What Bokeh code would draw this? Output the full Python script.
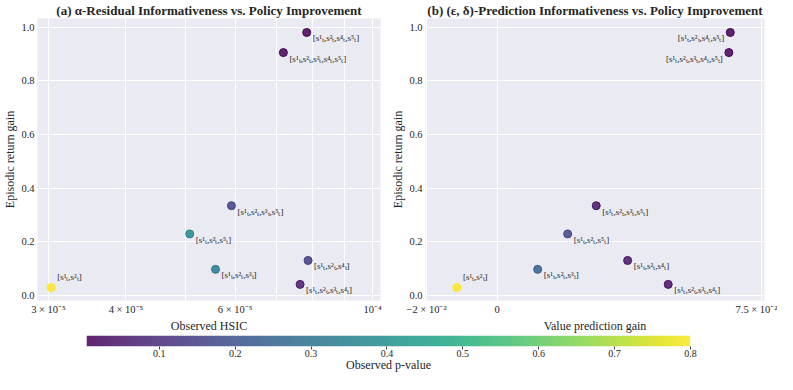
import numpy as np
from bokeh.plotting import figure
from bokeh.layouts import column, row
from bokeh.models import (ColumnDataSource, LinearColorMapper, FixedTicker,
                          Range1d, PrintfTickFormatter)
from bokeh.palettes import Viridis256
from bokeh.core.properties import value
from bokeh.embed import file_html
from bokeh.resources import INLINE

# ---------------- data ----------------
subsets = ["[s¹ₜ,s²ₜ,s⁴ₜ,s⁵ₜ]", "[s¹ₜ,s²ₜ,s³ₜ,s⁴ₜ,s⁵ₜ]", "[s¹ₜ,s²ₜ,s³ₜ,s⁵ₜ]",
           "[s¹ₜ,s²ₜ,s⁵ₜ]", "[s¹ₜ,s²ₜ,s³ₜ]", "[s¹ₜ,s²ₜ,s⁴ₜ]",
           "[s¹ₜ,s²ₜ,s³ₜ,s⁴ₜ]", "[s¹ₜ,s²ₜ]"]
return_gain = [0.98, 0.905, 0.335, 0.23, 0.098, 0.131, 0.042, 0.03]
observed_hsic = [7.83e-5, 7.18e-5, 5.92e-5, 5.07e-5, 5.58e-5, 7.87e-5, 7.64e-5, 3.03e-5]
pvalue_hsic = [0.01, 0.01, 0.16, 0.37, 0.33, 0.15, 0.06, 0.80]
value_pred_gain = [0.0661, 0.0657, 0.0281, 0.0200, 0.0115, 0.0370, 0.0485, -0.0114]
pvalue_pred = [0.01, 0.01, 0.05, 0.17, 0.24, 0.05, 0.04, 0.80]

pmin, pmax = 0.004, 0.80
cbar_ticks = [0.1, 0.2, 0.3, 0.4, 0.5, 0.6, 0.7, 0.8]
hsic_ticks = [3e-5, 4e-5, 5e-5, 6e-5, 7e-5, 8e-5, 9e-5, 1e-4]
hsic_tick_labels = {3e-5: "3 × 10⁻⁵", 4e-5: "4 × 10⁻⁵", 5e-5: "", 6e-5: "6 × 10⁻⁵",
                    7e-5: "", 8e-5: "", 9e-5: "", 1e-4: "10⁻⁴"}
pred_ticks = [-0.02, 0.0, 0.075]
pred_tick_labels = {-0.02: "−2 × 10⁻²", 0.0: "0", 0.075: "7.5 × 10⁻²"}
y_ticks = [0.0, 0.2, 0.4, 0.6, 0.8, 1.0]

# ---------------- style ----------------
SERIF = "Liberation Serif"
BG = "#eaeaf2"
TXT = "#262626"
mapper = LinearColorMapper(palette=Viridis256, low=pmin, high=pmax)


def style(p):
    p.background_fill_color = BG
    p.outline_line_color = None
    p.border_fill_color = "white"
    for ax in (p.xaxis[0], p.yaxis[0]):
        ax.axis_line_color = None
        ax.major_tick_line_color = None
        ax.minor_tick_line_color = None
        ax.major_tick_out = 0
        ax.major_tick_in = 0
        ax.minor_tick_out = 0
        ax.minor_tick_in = 0
        ax.major_label_text_font = SERIF
        ax.major_label_text_font_size = "10.5px"
        ax.major_label_text_color = TXT
        ax.axis_label_text_font = SERIF
        ax.axis_label_text_font_size = "12px"
        ax.axis_label_text_font_style = "normal"
        ax.axis_label_text_color = TXT
        ax.major_label_standoff = 3
        ax.axis_label_standoff = 1
    p.xgrid.grid_line_color = "white"
    p.ygrid.grid_line_color = "white"
    p.xgrid.grid_line_width = 1
    p.ygrid.grid_line_width = 1
    p.yaxis[0].ticker = FixedTicker(ticks=y_ticks)
    p.ygrid.ticker = FixedTicker(ticks=y_ticks)
    p.yaxis[0].formatter = PrintfTickFormatter(format="%.1f")
    p.yaxis.axis_label = "Episodic return gain"
    p.title.text_font = SERIF
    p.title.text_font_size = "13px"
    p.title.text_font_style = "bold"
    p.title.text_color = TXT
    p.title.align = "center"
    p.title.standoff = 1


def add_points(p, xs, pvals, left_labels):
    src = ColumnDataSource(dict(x=xs, y=return_gain, p=pvals, name=subsets))
    p.scatter("x", "y", source=src, size=8,
              fill_color={"field": "p", "transform": mapper}, fill_alpha=0.85,
              line_color={"field": "p", "transform": mapper}, line_alpha=1.0, line_width=1)
    for i in range(len(subsets)):
        is_left = i in left_labels
        is_above = subsets[i] == "[s¹ₜ,s²ₜ]"
        p.text(x=[xs[i]], y=[return_gain[i]], text=[subsets[i]],
               text_font=value(SERIF), text_font_size="9px", text_color=TXT,
               text_align="right" if is_left else "left", text_baseline="middle",
               x_offset=-6 if is_left else 6, y_offset=-11 if is_above else 6)


# ---------------- panel (a) ----------------
p1 = figure(width=388, height=335, x_axis_type="log",
            x_range=Range1d(2.88e-5, 1.03e-4), y_range=Range1d(-0.018, 1.032),
            output_backend="svg", toolbar_location=None,
            min_border_left=29, min_border_right=8, min_border_top=0, min_border_bottom=0,
            title="(a) α-Residual Informativeness vs. Policy Improvement")
style(p1)
p1.xaxis[0].ticker = FixedTicker(ticks=hsic_ticks)
p1.xgrid.ticker = FixedTicker(ticks=hsic_ticks)
p1.xaxis[0].major_label_overrides = hsic_tick_labels
p1.xaxis.axis_label = "Observed HSIC"
add_points(p1, observed_hsic, pvalue_hsic, left_labels=[])

# ---------------- panel (b) ----------------
p2 = figure(width=389, height=335,
            x_range=Range1d(-0.0203, 0.0758), y_range=Range1d(-0.018, 1.032),
            output_backend="svg", toolbar_location=None,
            min_border_left=31, min_border_right=13, min_border_top=0, min_border_bottom=0,
            title="(b) (ε, δ)-Prediction Informativeness vs. Policy Improvement")
style(p2)
p2.xaxis[0].ticker = FixedTicker(ticks=pred_ticks)
p2.xgrid.ticker = FixedTicker(ticks=pred_ticks)
p2.xaxis[0].major_label_overrides = pred_tick_labels
p2.xaxis.axis_label = "Value prediction gain"
add_points(p2, value_pred_gain, pvalue_pred, left_labels=[0, 1])

# ---------------- colour bar ----------------
pc = figure(width=777, height=39, x_range=Range1d(pmin, pmax),
            y_range=Range1d(0, 1), output_backend="svg", toolbar_location=None,
            min_border_left=86, min_border_right=87, min_border_top=0, min_border_bottom=0)
grad = np.linspace(pmin, pmax, 256).reshape(1, 256)
pc.image(image=[grad], x=pmin, y=0, dw=pmax - pmin, dh=1, color_mapper=mapper, global_alpha=0.85)
pc.yaxis.visible = False
pc.xgrid.visible = False
pc.ygrid.visible = False
pc.outline_line_color = None
ax = pc.xaxis[0]
ax.ticker = FixedTicker(ticks=cbar_ticks)
ax.axis_line_color = None
ax.major_tick_in = 0
ax.major_tick_out = 3
ax.major_tick_line_color = "#444444"
ax.minor_tick_line_color = None
ax.major_label_text_font = SERIF
ax.major_label_text_font_size = "10px"
ax.major_label_text_color = TXT
ax.major_label_standoff = 0
ax.axis_label = "Observed p-value"
ax.axis_label_text_font = SERIF
ax.axis_label_text_font_size = "12px"
ax.axis_label_text_font_style = "normal"
ax.axis_label_text_color = TXT
ax.axis_label_standoff = -2

layout = column(row(p1, p2), pc)
open("out.html", "w").write(file_html(layout, INLINE))
